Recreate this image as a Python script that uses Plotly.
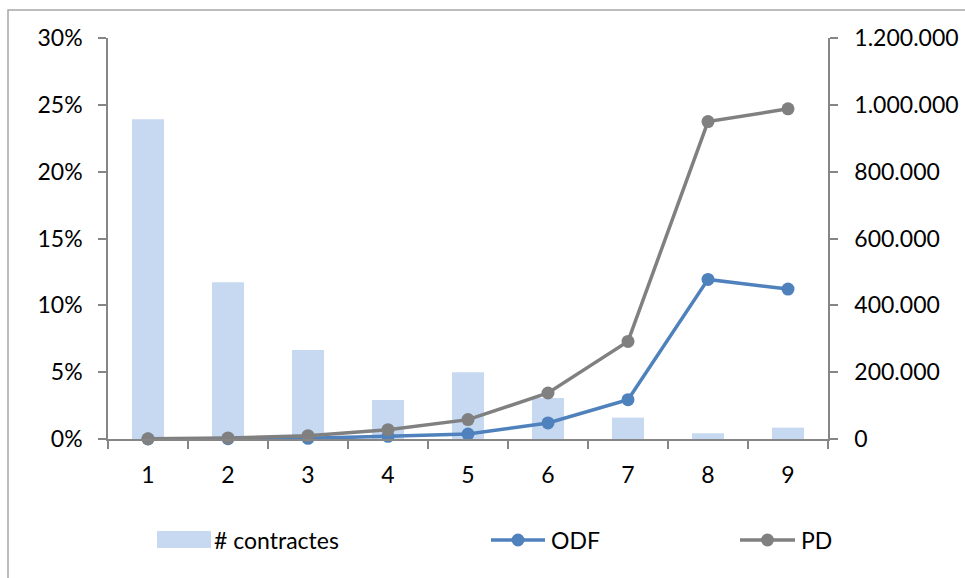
import plotly.graph_objects as go

# Rating grades and their portfolio figures
grades = ["1", "2", "3", "4", "5", "6", "7", "8", "9"]
contractes = [957000, 469000, 266000, 117000, 200000, 123000, 64000, 17000, 34000]
odf = [0.0000, 0.0002, 0.0005, 0.0020, 0.0037, 0.0120, 0.0294, 0.1194, 0.1122]
pd_rate = [0.0002, 0.0008, 0.0025, 0.0070, 0.0145, 0.0344, 0.0730, 0.2375, 0.2470]

pct_ticks = [0, 0.05, 0.10, 0.15, 0.20, 0.25, 0.30]
count_ticks = [0, 200000, 400000, 600000, 800000, 1000000, 1200000]

BAR_COLOR = "#C6D9F1"
ODF_COLOR = "#4F81BD"
PD_COLOR = "#808080"
AXIS_COLOR = "#868686"
FONT = "Lato"
FSIZE = 23

W, H = 965, 578
L, R, T, B = 108, 137, 38, 139
PW, PH = W - L - R, H - T - B


def px_x(x):
    return (x - L) / PW


def px_y(y):
    return (H - B - y) / PH


fig = go.Figure()

fig.add_trace(go.Bar(
    x=grades, y=contractes, name="# contractes",
    marker=dict(color=BAR_COLOR, line=dict(width=0)),
    width=0.4, yaxis="y",
))
fig.add_trace(go.Scatter(
    x=grades, y=odf, name="ODF", mode="lines+markers",
    line=dict(color=ODF_COLOR, width=3.5),
    marker=dict(color=ODF_COLOR, size=13),
    yaxis="y2", cliponaxis=False,
))
fig.add_trace(go.Scatter(
    x=grades, y=pd_rate, name="PD", mode="lines+markers",
    line=dict(color=PD_COLOR, width=3.5),
    marker=dict(color=PD_COLOR, size=13),
    yaxis="y2", cliponaxis=False,
))

axis_common = dict(
    showgrid=False, zeroline=False, showline=True, automargin=False,
    linecolor=AXIS_COLOR, linewidth=1.5,
    ticks="outside", ticklen=8, tickwidth=1.5, tickcolor=AXIS_COLOR,
    tickfont=dict(family=FONT, size=FSIZE, color="#000000"),
)

fig.update_layout(
    width=W, height=H,
    margin=dict(l=L, r=R, t=T, b=B, pad=0),
    paper_bgcolor="white", plot_bgcolor="white",
    separators=",.",
    showlegend=False,
    bargap=0.6,
    font=dict(family=FONT, size=FSIZE, color="#000000"),
    xaxis=dict(type="category", tickson="boundaries", range=[-0.5, 8.5],
               ticklabelstandoff=15, **axis_common),
    yaxis=dict(side="right", range=[0, 1200000], tickvals=count_ticks,
               tickformat=",d", ticklabelstandoff=12, **axis_common),
    yaxis2=dict(side="left", overlaying="y", range=[0, 0.30],
                tickvals=pct_ticks, tickformat=".0%",
                ticklabelstandoff=11, **axis_common),
)

shapes = []
# outer chart frame
shapes.append(dict(type="rect", xref="paper", yref="paper",
                   x0=px_x(8), x1=px_x(975), y0=px_y(590), y1=px_y(10),
                   line=dict(color="#A6A6A6", width=1.5), fillcolor="rgba(0,0,0,0)",
                   layer="below"))

# legend keys
ly = 540
shapes.append(dict(type="rect", xref="paper", yref="paper",
                   x0=px_x(157), x1=px_x(211), y0=px_y(548), y1=px_y(531),
                   line=dict(width=0), fillcolor=BAR_COLOR))
for x0, x1, col in [(491, 545, ODF_COLOR), (740, 795, PD_COLOR)]:
    shapes.append(dict(type="line", xref="paper", yref="paper",
                       x0=px_x(x0), x1=px_x(x1), y0=px_y(ly), y1=px_y(ly),
                       line=dict(color=col, width=3.5)))
    cx = (x0 + x1) / 2
    shapes.append(dict(type="circle", xref="paper", yref="paper",
                       x0=px_x(cx - 6.5), x1=px_x(cx + 6.5),
                       y0=px_y(ly + 6.5), y1=px_y(ly - 6.5),
                       line=dict(width=0), fillcolor=col))

fig.update_layout(shapes=shapes)

legend_texts = [("# contractes", 212), ("ODF", 549), ("PD", 799)]
for txt, x in legend_texts:
    fig.add_annotation(text=txt, xref="paper", yref="paper",
                       x=px_x(x), y=px_y(ly), xanchor="left", yanchor="middle",
                       showarrow=False, font=dict(family=FONT, size=FSIZE, color="#000000"))

fig.write_html("out.html")
